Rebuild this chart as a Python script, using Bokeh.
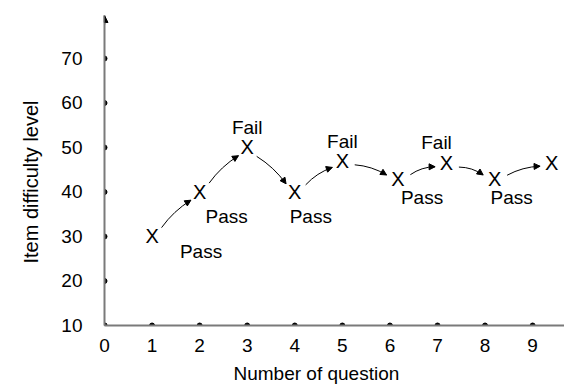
import math
from bokeh.plotting import figure
from bokeh.models import Range1d, FixedTicker, Arrow, NormalHead, Title
from bokeh.core.properties import value
from bokeh.embed import file_html
from bokeh.resources import INLINE

# ---- data ----
questions = [1.0, 2.0, 3.0, 4.0, 5.0, 6.17, 7.19, 8.2, 9.4]
difficulty = [30, 40, 50, 40, 47, 43, 46.5, 43, 46.5]
outcomes = ["Pass", "Pass", "Fail", "Pass", "Fail", "Pass", "Fail", "Pass", ""]
x_ticks = [0, 1, 2, 3, 4, 5, 6, 7, 8, 9]
y_ticks = [10, 20, 30, 40, 50, 60, 70]
x_title = "Number of question"
y_title = "Item difficulty level"

# ---- layout / style ----
W, H = 564, 392
BL, BR, BT, BB = 104, 0, 15, 67
X0, X1 = 0, 9.67
Y0, Y1 = 10, 79.66
FONT = "Liberation Sans"
FS = "19px"
AXIS_COLOR = "#7a7a7a"

# label offsets (pixels, right / down) relative to each X marker
lab_dx = [49, 27, 0, 16, 0, 24, -10, 17, 0]
lab_dy = [15, 25, -20, 25, -19, 19, -21, 19, 0]

p = figure(width=W, height=H, output_backend="svg", toolbar_location=None,
           x_range=Range1d(X0, X1), y_range=Range1d(Y0, Y1),
           min_border_left=BL, min_border_right=BR, min_border_top=BT,
           min_border_bottom=BB)
p.outline_line_color = None
p.grid.visible = False
p.background_fill_color = "white"
p.border_fill_color = "white"

for ax in (p.xaxis[0], p.yaxis[0]):
    ax.axis_line_color = AXIS_COLOR
    ax.axis_line_width = 2
    ax.major_tick_line_color = None
    ax.minor_tick_line_color = None
    ax.major_tick_out = 0
    ax.major_tick_in = 0
    ax.major_label_text_font = FONT
    ax.major_label_text_font_size = FS
    ax.major_label_text_color = "black"

p.xaxis.ticker = FixedTicker(ticks=x_ticks)
p.yaxis.ticker = FixedTicker(ticks=y_ticks)
p.xaxis.major_label_standoff = 13
p.yaxis.major_label_standoff = 22

# tick dots on the axes
p.scatter(x=x_ticks, y=[Y0] * len(x_ticks), size=5, color="black")
p.scatter(x=[X0] * len(y_ticks), y=y_ticks, size=5, color="black")

# arrow head on top of y axis
p.add_layout(Arrow(x_start=X0, y_start=Y1 - 2, x_end=X0, y_end=Y1,
                   line_color=AXIS_COLOR, line_width=2,
                   end=NormalHead(size=7, fill_color="black", line_color="black")))

# X markers
p.text(x=questions, y=difficulty, text=["X"] * len(questions),
       text_align="center", text_baseline="middle",
       text_font=value(FONT), text_font_size="20px", text_color="black")

# Pass / Fail labels
p.text(x=questions, y=difficulty, text=outcomes,
       x_offset=lab_dx, y_offset=lab_dy,
       text_align="center", text_baseline="middle",
       text_font=value(FONT), text_font_size=FS, text_color="black")

# curved arrows between consecutive items
sx = (W - BL - BR) / (X1 - X0)
sy = (H - BT - BB) / (Y1 - Y0)
GAP0, GAP1, BOW = 13, 12, 4
for i in range(len(questions) - 1):
    ax_, ay_ = questions[i] * sx, difficulty[i] * sy
    bx_, by_ = questions[i + 1] * sx, difficulty[i + 1] * sy
    dx, dy = bx_ - ax_, by_ - ay_
    L = math.hypot(dx, dy)
    ux, uy = dx / L, dy / L
    s = (ax_ + ux * GAP0, ay_ + uy * GAP0)
    e = (bx_ - ux * GAP1, by_ - uy * GAP1)
    m = ((s[0] + e[0]) / 2, (s[1] + e[1]) / 2)
    c = (m[0] - uy * BOW, m[1] + ux * BOW)
    tx, ty = e[0] - c[0], e[1] - c[1]
    tl = math.hypot(tx, ty)
    tx, ty = tx / tl, ty / tl
    p.quadratic(x0=[s[0] / sx], y0=[s[1] / sy], x1=[e[0] / sx], y1=[e[1] / sy],
                cx=[c[0] / sx], cy=[c[1] / sy], line_color="black", line_width=1)
    p.add_layout(Arrow(x_start=(e[0] - tx * 3) / sx, y_start=(e[1] - ty * 3) / sy,
                       x_end=e[0] / sx, y_end=e[1] / sy,
                       line_color="black", line_width=1,
                       end=NormalHead(size=6, fill_color="black", line_color="black",
                                      line_width=1)))

# axis titles
p.add_layout(Title(text=x_title, align="left", offset=129, standoff=13,
                   text_font=FONT, text_font_size=FS, text_font_style="normal",
                   text_color="black"), "below")
p.add_layout(Title(text=y_title, align="left", offset=62, standoff=34,
                   text_font=FONT, text_font_size="20px", text_font_style="normal",
                   text_color="black"), "left")

open("out.html", "w").write(file_html(p, INLINE))
